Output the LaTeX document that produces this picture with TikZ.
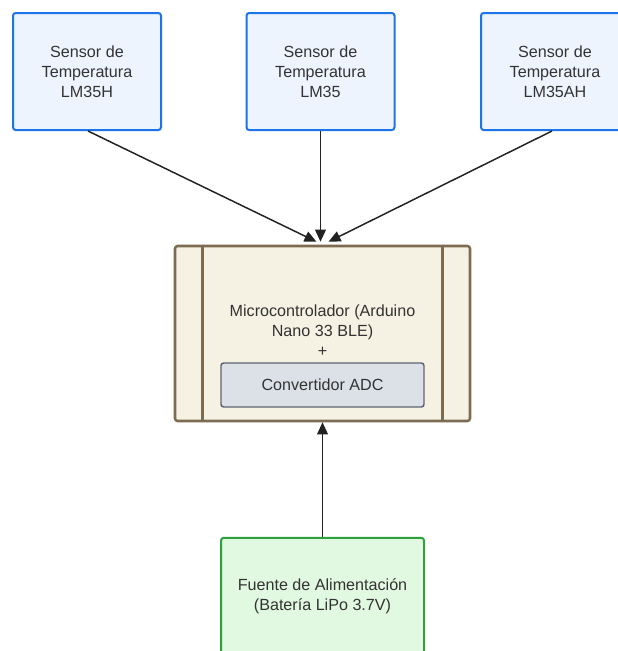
\documentclass[tikz,border=0pt]{standalone}
\usepackage{fontspec}
\setmainfont{Liberation Sans}
\usepackage{xcolor}
\usetikzlibrary{arrows.meta, positioning, calc}

\definecolor{sensorfill}{HTML}{EDF4FE}
\definecolor{sensorline}{HTML}{1C74E6}
\definecolor{microfill}{HTML}{F5F1E3}
\definecolor{microline}{HTML}{7C6C52}
\definecolor{adcfill}{HTML}{DCE0E7}
\definecolor{adcline}{HTML}{5E6573}
\definecolor{powerfill}{HTML}{E1F8E1}
\definecolor{powerline}{HTML}{2EA03E}
\definecolor{txt}{HTML}{333333}
\definecolor{linkcol}{HTML}{222222}

\tikzset{
  box/.style={rounded corners=2pt, align=center, text=txt,
    font=\fontsize{12.1}{15}\selectfont},
  sensor/.style={box, draw=sensorline, fill=sensorfill, line width=1.5pt,
    minimum width=111pt, minimum height=87.75pt},
  micro/.style={box, draw=microline, fill=microfill, line width=1.9pt,
    minimum width=221.25pt, minimum height=131.25pt},
  adc/.style={box, draw=adcline, fill=adcfill, line width=1.1pt,
    minimum width=152.25pt, minimum height=33pt},
  power/.style={box, draw=powerline, fill=powerfill, line width=1.5pt,
    minimum width=152.25pt, minimum height=88pt},
  link/.style={draw=linkcol, line width=1.1pt,
    -{Triangle[length=9pt, width=8pt]}}
}

\begin{document}
\begin{tikzpicture}[x=0.75pt, y=-0.75pt]
\useasboundingbox[fill=white] (0,0) rectangle (618,651);
\clip (0,0) rectangle (618,651);

% sensores
\node[sensor] (s1) at (87,71.5) {Sensor de\\Temperatura\\LM35H};
\node[sensor] (s2) at (320.5,71.5) {Sensor de\\Temperatura\\LM35};
\node[sensor] (s3) at (555,71.5) {Sensor de\\Temperatura\\LM35AH};

% microcontrolador
\node[micro] (mcu) at (322.5,333.5) {};
\draw[microline, line width=1.9pt] ($(mcu.north west)+(29,0)$) -- ($(mcu.south west)+(29,0)$);
\draw[microline, line width=1.9pt] ($(mcu.north east)+(-29,0)$) -- ($(mcu.south east)+(-29,0)$);
\node[box] (mcutext) at (322.5,331) {Microcontrolador (Arduino\\Nano 33 BLE)\\+};
\node[adc] (adc) at (322.5,385) {Convertidor ADC};

% alimentacion
\node[power] (pwr) at (322.5,596.5) {Fuente de Alimentación\\(Batería LiPo 3.7V)};

% conexiones
\coordinate (in1) at ($(mcu.north)+(-6,-3)$);
\coordinate (in3) at ($(mcu.north)+(6,-3)$);
\draw[link] ($(s1.south)+(1,0)$) -- (in1);
\draw[link] (s2.south) -- ($(mcu.north)+(-2,-3)$);
\draw[link] ($(s3.south)+(-3,0)$) -- (in3);
\draw[link] (pwr.north) -- (mcu.south);
\end{tikzpicture}
\end{document}
